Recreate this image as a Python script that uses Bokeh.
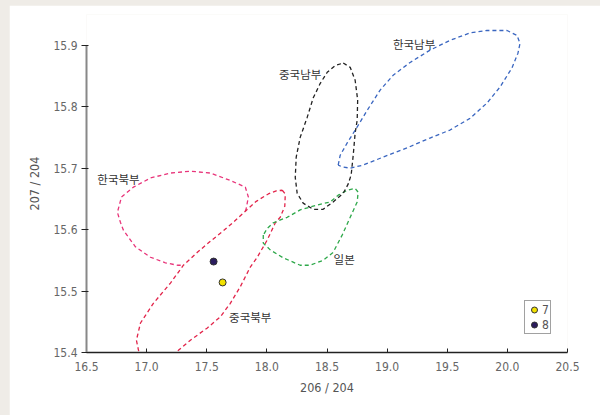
from bokeh.plotting import figure
from bokeh.models import Range1d, Legend, LegendItem
from bokeh.layouts import column
from bokeh.core.properties import value
from bokeh.embed import file_html
from bokeh.resources import INLINE

# ---- data ----
# 한국북부 (open at the lower right, where it joins the 중국북부 outline)
kn_x = [17.821, 17.829, 17.846, 17.821, 17.696, 17.530, 17.364, 17.198, 17.032, 16.890, 16.791, 16.757,
        16.782, 16.807, 16.907, 17.032, 17.156, 17.256, 17.306]
kn_y = [15.630, 15.635, 15.653, 15.669, 15.680, 15.692, 15.695, 15.692, 15.684, 15.669, 15.653, 15.628,
        15.612, 15.599, 15.572, 15.555, 15.546, 15.542, 15.542]

cn_x = [18.128, 18.153, 18.149, 18.111, 18.070, 18.003, 17.920, 17.862, 17.779, 17.696, 17.613, 17.505,
        17.364, 17.248, 17.156, 17.032, 16.949, 16.932, 16.915, 16.949, 17.056, 17.198, 17.306, 17.422,
        17.530, 17.638, 17.721, 17.821, 17.912, 18.012, 18.078, 18.128]
cn_y = [15.664, 15.658, 15.638, 15.620, 15.611, 15.583, 15.555, 15.539, 15.507, 15.480, 15.458, 15.440,
        15.420, 15.401, 15.385, 15.378, 15.391, 15.404, 15.420, 15.448, 15.480, 15.513, 15.542, 15.563,
        15.581, 15.598, 15.612, 15.630, 15.646, 15.658, 15.663, 15.664]

jp_x = [17.970, 17.970, 18.028, 18.136, 18.277, 18.360, 18.468, 18.551, 18.626, 18.693, 18.751, 18.759,
        18.734, 18.668, 18.593, 18.527, 18.419, 18.277, 18.169, 18.053, 18.003, 17.970]
jp_y = [15.591, 15.578, 15.567, 15.554, 15.542, 15.542, 15.550, 15.563, 15.591, 15.620, 15.645, 15.661,
        15.667, 15.664, 15.656, 15.645, 15.640, 15.632, 15.620, 15.611, 15.602, 15.591]

cs_x = [18.635, 18.693, 18.734, 18.755, 18.751, 18.734, 18.718, 18.701, 18.676, 18.635, 18.551, 18.468,
        18.385, 18.302, 18.252, 18.236, 18.244, 18.277, 18.336, 18.385, 18.444, 18.502, 18.568, 18.635]
cs_y = [15.871, 15.864, 15.843, 15.811, 15.778, 15.757, 15.721, 15.689, 15.674, 15.659, 15.645, 15.633,
        15.633, 15.643, 15.659, 15.685, 15.718, 15.750, 15.783, 15.814, 15.838, 15.856, 15.867, 15.871]

ks_x = [18.593, 18.610, 18.668, 18.751, 18.834, 18.942, 19.050, 19.191, 19.357, 19.523, 19.689, 19.831,
        19.997, 20.080, 20.105, 20.088, 20.038, 19.939, 19.831, 19.689, 19.523, 19.357, 19.166, 18.967,
        18.801, 18.693, 18.627, 18.593]
ks_y = [15.705, 15.721, 15.741, 15.767, 15.794, 15.827, 15.851, 15.872, 15.892, 15.908, 15.920, 15.924,
        15.924, 15.916, 15.903, 15.887, 15.863, 15.832, 15.806, 15.781, 15.762, 15.749, 15.733, 15.718,
        15.705, 15.700, 15.702, 15.705]

region_names = ["한국북부", "중국북부", "일본", "중국남부", "한국남부"]
label_x = [16.766, 17.862, 18.643, 18.277, 19.224]
label_y = [15.682, 15.457, 15.552, 15.853, 15.902]

sample_names = ["7", "8"]
sample_x = [17.632, 17.557]
sample_y = [15.514, 15.548]

x_ticks = [16.5, 17.0, 17.5, 18.0, 18.5, 19.0, 19.5, 20.0, 20.5]
y_ticks = [15.4, 15.5, 15.6, 15.7, 15.8, 15.9]

TICK_FONT = "Liberation Sans Narrow, DejaVu Sans Condensed, sans-serif"

p = figure(width=591, height=410, output_backend="svg", toolbar_location=None,
           x_range=Range1d(16.5, 20.5), y_range=Range1d(15.4, 15.95),
           min_border_left=77, min_border_right=33, min_border_top=9, min_border_bottom=63,
           margin=(5, 0, 0, 9))
p.background_fill_color = "white"
p.border_fill_color = "white"
p.outline_line_color = None
p.xgrid.grid_line_color = None
p.ygrid.grid_line_color = None

dash = "4 3"
p.line(kn_x, kn_y, line_color="#E8357A", line_width=1.3, line_dash=dash)
p.line(cn_x, cn_y, line_color="#E2244A", line_width=1.3, line_dash=dash)
p.line(jp_x, jp_y, line_color="#2EA84A", line_width=1.3, line_dash=dash)
p.line(cs_x, cs_y, line_color="#222222", line_width=1.3, line_dash=dash)
p.line(ks_x, ks_y, line_color="#3A66C0", line_width=1.3, line_dash=dash)

p.text(x=label_x, y=label_y, text=region_names, text_font=value("Noto Sans CJK KR"),
       text_font_size="11.5px", text_color="#333333", text_align="center", text_baseline="middle")

r7 = p.scatter([sample_x[0]], [sample_y[0]], size=7, fill_color="#F2E100", line_color="#333333", line_width=1)
r8 = p.scatter([sample_x[1]], [sample_y[1]], size=7, fill_color="#2B1C5E", line_color="#333333", line_width=1)

legend = Legend(items=[LegendItem(label=sample_names[0], renderers=[r7]),
                       LegendItem(label=sample_names[1], renderers=[r8])],
                location=(438, 18))
legend.border_line_color = "#444444"
legend.border_line_width = 1
legend.background_fill_color = "white"
legend.background_fill_alpha = 1
legend.padding = 1
legend.spacing = 0
legend.margin = 0
legend.glyph_width = 16
legend.glyph_height = 15
legend.label_height = 15
label_width = 7
legend.label_width = label_width
legend.label_standoff = 0
legend.label_text_font = TICK_FONT
legend.label_text_font_size = "12px"
legend.label_text_color = "#555555"
p.add_layout(legend)

p.xaxis.ticker = x_ticks
p.yaxis.ticker = y_ticks
p.yaxis.bounds = (15.4, 15.9)
p.xaxis.major_label_overrides = {t: f"{t:.1f}" for t in x_ticks}
p.yaxis.major_label_overrides = {t: f"{t:.1f}" for t in y_ticks}
p.xaxis.axis_label = "206 / 204"
p.yaxis.axis_label = "207 / 204"
for ax in (p.xaxis, p.yaxis):
    ax.minor_tick_line_color = None
    ax.major_label_text_font = TICK_FONT
    ax.major_label_text_font_size = "12px"
    ax.major_label_text_color = "#666666"
    ax.axis_label_text_font = TICK_FONT
    ax.axis_label_text_font_size = "12.5px"
    ax.axis_label_text_font_style = "normal"
    ax.axis_label_text_color = "#555555"
    ax.major_tick_line_color = "#222222"
p.xaxis.axis_line_color = "#222222"
p.xaxis.axis_line_width = 1.5
p.xaxis.major_tick_in = 4
p.xaxis.major_tick_out = 0
p.xaxis.major_label_standoff = 9
p.xaxis.axis_label_standoff = 6
p.yaxis.axis_line_color = "#888888"
p.yaxis.axis_line_width = 2
p.yaxis.major_tick_in = 2
p.yaxis.major_tick_out = 5
p.yaxis.major_label_standoff = 4
p.yaxis.axis_label_standoff = 8

root = column(p, styles={"background-color": "#EFECE7"}, width=600, height=415)

open("out.html", "w").write(file_html(root, INLINE))
